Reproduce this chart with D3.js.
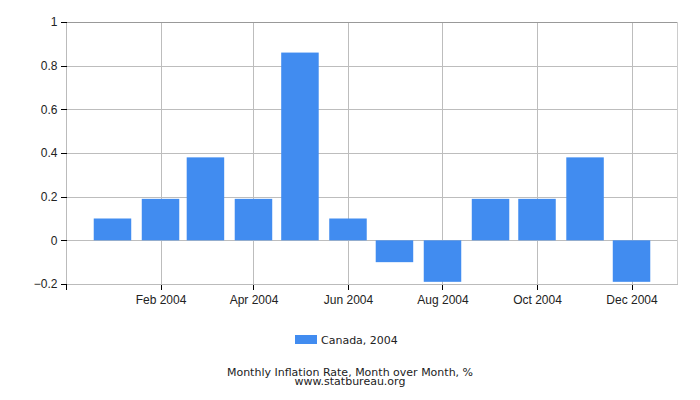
<!DOCTYPE html>
<html>
<head>
<meta charset="utf-8">
<script src="https://cdn.jsdelivr.net/npm/d3@7"></script>
<style>
	body { margin: 0; background: #fff; }
	svg { display: block; font-family: "DejaVu Sans", Verdana, sans-serif; }
	.grid line { stroke: #bdbdbd; stroke-width: 1; shape-rendering: crispEdges; }
	.axis path { display: none; }
	.axis line { stroke: #000; shape-rendering: crispEdges; }
	.axis text { fill: #222; font-size: 12px; }
</style>
</head>
<body>
<svg id="chart" width="700" height="400"></svg>
<script>
var months = ["2004-01", "2004-02", "2004-03", "2004-04", "2004-05", "2004-06",
	"2004-07", "2004-08", "2004-09", "2004-10", "2004-11", "2004-12"];
var values = [0.1, 0.19, 0.38, 0.19, 0.86, 0.1, -0.1, -0.19, 0.19, 0.19, 0.38, -0.19];
var xTickMonths = ["2004-02", "2004-04", "2004-06", "2004-08", "2004-10", "2004-12"];
var yTicks = [-0.2, 0, 0.2, 0.4, 0.6, 0.8, 1];
var seriesName = "Canada, 2004";
var title = "Monthly Inflation Rate, Month over Month, %";
var source = "www.statbureau.org";

var parseMonth = d3.timeParse("%Y-%m");
var data = months.map(function(m, i) {
	return {date: parseMonth(m), value: values[i]};
});

var svg = d3.select("#chart");
var margin = {top: 22, right: 22, bottom: 116, left: 66},
	width = svg.attr("width") - margin.left - margin.right,
	height = svg.attr("height") - margin.top - margin.bottom,
	g = svg.append("g").attr("transform", "translate(" + margin.left + "," + margin.top + ")");

var x = d3.scaleTime()
	.domain([new Date(2003, 11, 2), new Date(2004, 11, 31)])
	.range([0, width]);
var y = d3.scaleLinear().domain([-0.2, 1]).range([height, 0]);
var barWidth = 37.5;

// grid
g.append("g").attr("class", "grid")
	.selectAll("line").data(yTicks).enter().append("line")
	.attr("x1", 0).attr("x2", width)
	.attr("y1", function(d) { return Math.round(y(d)) + 0.5; })
	.attr("y2", function(d) { return Math.round(y(d)) + 0.5; });

g.append("g").attr("class", "grid")
	.selectAll("line").data(xTickMonths.map(parseMonth)).enter().append("line")
	.attr("x1", function(d) { return Math.round(x(d)) + 0.5; })
	.attr("x2", function(d) { return Math.round(x(d)) + 0.5; })
	.attr("y1", 0).attr("y2", height);

// frame
g.append("line").attr("x1", 0).attr("x2", width).attr("y1", 0.5).attr("y2", 0.5)
	.style("stroke", "#999").style("shape-rendering", "crispEdges");
g.append("line").attr("x1", width - 0.5).attr("x2", width - 0.5).attr("y1", 0).attr("y2", height)
	.style("stroke", "#ccc").style("shape-rendering", "crispEdges");
g.append("line").attr("x1", 0.5).attr("x2", 0.5).attr("y1", 0).attr("y2", height)
	.style("stroke", "#bbb").style("shape-rendering", "crispEdges");
g.append("line").attr("x1", 0).attr("x2", width).attr("y1", height + 0.5).attr("y2", height + 0.5)
	.style("stroke", "#bbb").style("shape-rendering", "crispEdges");

// bars
g.selectAll(".bar")
	.data(data)
	.enter().append("rect")
	.attr("class", "bar")
	.attr("x", function(d) { return x(d.date) - barWidth / 2; })
	.attr("width", barWidth)
	.attr("y", function(d) { return y(Math.max(0, d.value)); })
	.attr("height", function(d) { return Math.abs(y(d.value) - y(0)); })
	.style("fill", "#418cf0");

// axes
g.append("g")
	.attr("class", "axis axis--x")
	.attr("transform", "translate(0," + (height + 0.5) + ")")
	.call(d3.axisBottom(x)
		.tickValues([x.domain()[0]].concat(xTickMonths.map(parseMonth)))
		.tickSize(5)
		.tickPadding(6)
		.tickFormat(function(d, i) { return i == 0 ? "" : d3.timeFormat("%b %Y")(d); }));

g.append("g")
	.attr("class", "axis axis--y")
	.attr("transform", "translate(0.5,0)")
	.call(d3.axisLeft(y)
		.tickValues(yTicks)
		.tickSize(6)
		.tickPadding(3)
		.tickFormat(function(d) { return d3.format("")(+d.toFixed(1)); }));

// legend
var legend = svg.append("g").attr("transform", "translate(295,335)");
legend.append("rect").attr("width", 22).attr("height", 9).style("fill", "#418cf0");
legend.append("text")
	.attr("x", 26).attr("y", 5)
	.attr("dy", "0.35em")
	.style("font-size", "11px").style("fill", "#222")
	.text(seriesName);

svg.append("text")
	.attr("x", 350).attr("y", 372)
	.attr("dy", "0.35em")
	.attr("text-anchor", "middle")
	.style("font-size", "11px").style("fill", "#222")
	.text(title);

svg.append("text")
	.attr("x", 350).attr("y", 381)
	.attr("dy", "0.35em")
	.attr("text-anchor", "middle")
	.style("font-size", "11px").style("fill", "#222")
	.text(source);
</script>
</body>
</html>
